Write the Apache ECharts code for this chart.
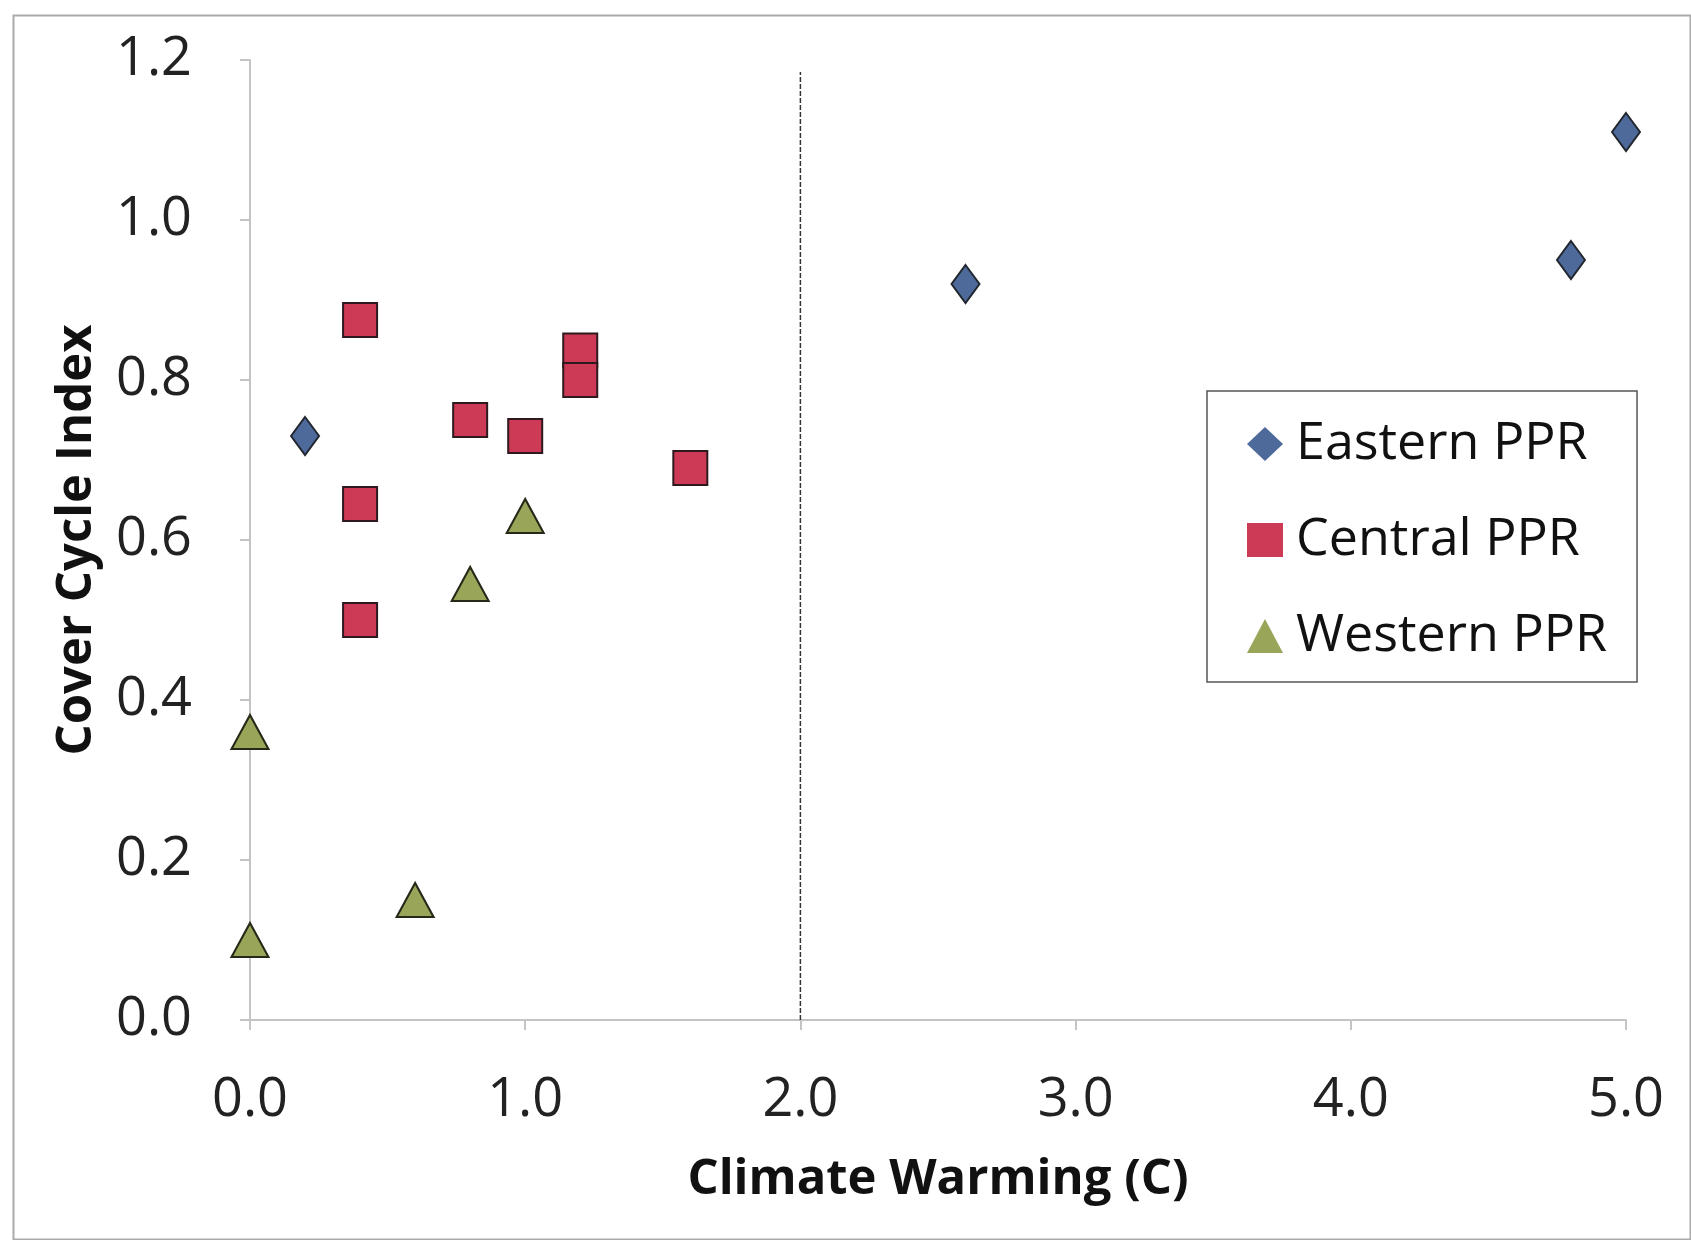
<!DOCTYPE html>
<html>
<head>
<meta charset="utf-8">
<script src="https://cdn.jsdelivr.net/npm/echarts@6/dist/echarts.min.js"></script>
<style>
  html, body { margin: 0; padding: 0; background: #fff; }
  #chart { width: 1691px; height: 1240px; }
</style>
</head>
<body>
<div id="chart"></div>
<script>
// Cover cycle index vs climate warming, by region
const easternData = [[0.2, 0.73], [2.6, 0.92], [4.8, 0.95], [5.0, 1.11]];
const centralData = [[0.4, 0.875], [0.4, 0.645], [0.4, 0.50], [0.8, 0.75], [1.0, 0.73],
                     [1.2, 0.837], [1.2, 0.80], [1.6, 0.69]];
const westernData = [[0.0, 0.36], [0.0, 0.10], [0.6, 0.15], [0.8, 0.545], [1.0, 0.63]];
// the dotted divider at 2.0 C
const dividerLine = [[2.0, 0.0], [2.0, 1.185]];

const xTicks = [0, 1, 2, 3, 4, 5];
const yTicks = [0, 0.2, 0.4, 0.6, 0.8, 1.0, 1.2];

const chart = echarts.init(document.getElementById('chart'));

const font = '"Open Sans", "Noto Sans", sans-serif';
const axisGray = '#c4c4c4';

let option = {
    backgroundColor: '#fff',
    animation: false,
    textStyle: { fontFamily: font },
    grid: { left: 250, right: 65, top: 60, bottom: 220 },
    xAxis: {
        type: 'value',
        min: xTicks[0],
        max: xTicks[xTicks.length - 1],
        interval: 1,
        name: 'Climate Warming (C)',
        nameLocation: 'middle',
        nameGap: 136,
        nameTextStyle: { fontSize: 49, fontWeight: 'bold', color: '#111', fontFamily: font },
        axisLine: { lineStyle: { color: axisGray, width: 2 } },
        axisTick: { show: true, length: 10, lineStyle: { color: axisGray, width: 2 } },
        axisLabel: {
            fontSize: 54, color: '#222', margin: 54,
            formatter: v => v.toFixed(1)
        },
        splitLine: { show: false }
    },
    yAxis: {
        type: 'value',
        min: yTicks[0],
        max: yTicks[yTicks.length - 1],
        interval: 0.2,
        name: 'Cover Cycle Index',
        nameLocation: 'middle',
        nameGap: 148,
        nameTextStyle: { fontSize: 49, fontWeight: 'bold', color: '#111', fontFamily: font },
        axisLine: { show: true, lineStyle: { color: axisGray, width: 2 } },
        axisTick: { show: true, length: 10, lineStyle: { color: axisGray, width: 2 } },
        axisLabel: {
            fontSize: 54, color: '#222', margin: 58,
            formatter: v => v.toFixed(1)
        },
        splitLine: { show: false }
    },
    legend: {
        orient: 'vertical',
        left: 1207,
        top: 391,
        padding: [27, 30, 20, 40],
        itemGap: 44,
        itemWidth: 36,
        itemHeight: 34,
        itemStyle: { borderWidth: 0 },
        borderColor: '#555',
        borderWidth: 1.5,
        backgroundColor: '#fff',
        textStyle: { fontSize: 52, color: '#111', lineHeight: 52, padding: [0, 0, 0, 8] },
        data: ['Eastern PPR', 'Central PPR', 'Western PPR']
    },
    graphic: [{
        type: 'rect',
        left: 11, top: 13,
        shape: { width: 1677, height: 1224 },
        style: { fill: null, stroke: '#aaa', lineWidth: 2 },
        silent: true
    }],
    series: [
        {
            name: 'divider',
            type: 'line',
            data: dividerLine,
            symbol: 'none',
            lineStyle: { color: '#333', width: 1.5, type: [5, 2] },
            z: 1
        },
        {
            name: 'Eastern PPR',
            type: 'scatter',
            symbol: 'diamond',
            symbolSize: [28, 38],
            data: easternData,
            itemStyle: { color: '#4d6a9a', borderColor: '#22262e', borderWidth: 2, opacity: 1 },
            z: 3
        },
        {
            name: 'Central PPR',
            type: 'scatter',
            symbol: 'rect',
            symbolSize: 34,
            data: centralData,
            itemStyle: { color: '#cc3a55', borderColor: '#2e1a1e', borderWidth: 2, opacity: 1 },
            z: 3
        },
        {
            name: 'Western PPR',
            type: 'scatter',
            symbol: 'triangle',
            symbolSize: [37, 34],
            data: westernData,
            itemStyle: { color: '#99a65a', borderColor: '#262818', borderWidth: 2, opacity: 1 },
            z: 3
        }
    ]
};

chart.setOption(option);
</script>
</body>
</html>
